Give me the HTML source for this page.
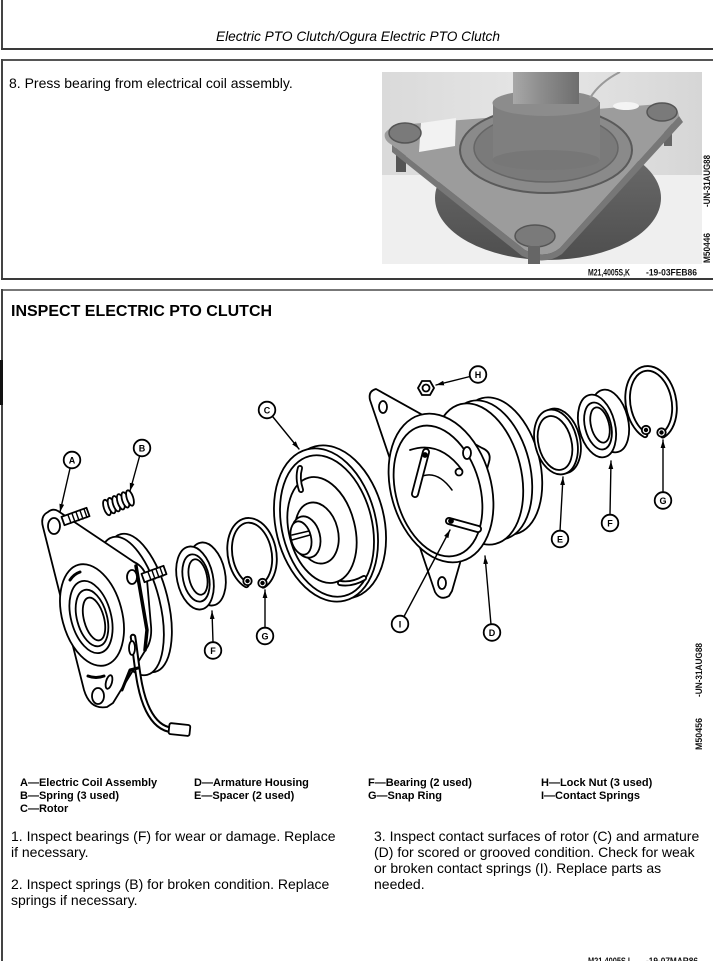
<!DOCTYPE html>
<html><head><meta charset="utf-8">
<style>
html,body{margin:0;padding:0;background:#fff;}
body{width:713px;height:961px;position:relative;overflow:hidden;font-family:"Liberation Sans",Arial,sans-serif;color:#000;}
.a{position:absolute;white-space:nowrap;}
.p{font-size:14px;line-height:16px;}
.lg{font-size:11px;line-height:13.3px;font-weight:bold;}
</style></head><body>

<!-- borders -->
<div class="a" style="left:1px;top:0;width:2px;height:50px;background:#444"></div>
<div class="a" style="left:1px;top:48px;width:712px;height:2px;background:#3a3a3a"></div>
<div class="a" style="left:1px;top:59px;width:712px;height:2px;background:#555"></div>
<div class="a" style="left:1px;top:59px;width:2px;height:221px;background:#444"></div>
<div class="a" style="left:1px;top:278px;width:712px;height:2px;background:#3a3a3a"></div>
<div class="a" style="left:1px;top:289px;width:712px;height:2px;background:#777"></div>
<div class="a" style="left:1px;top:289px;width:2px;height:672px;background:#444"></div>
<div class="a" style="left:0;top:360px;width:3px;height:45px;background:#111"></div>

<!-- header -->
<div class="a" style="left:216px;top:30px;font-size:13.7px;line-height:14px;font-style:italic;">Electric PTO Clutch/Ogura Electric PTO Clutch</div>
<div class="a" style="left:9px;top:76px;font-size:14px;line-height:14px;">8. Press bearing from electrical coil assembly.</div>

<div class="a" style="left:11px;top:303.5px;font-size:16px;line-height:16px;font-weight:bold;">INSPECT ELECTRIC PTO CLUTCH</div>

<!-- legend -->
<div class="a lg" style="left:20px;top:776.5px;">A—Electric Coil Assembly<br>B—Spring (3 used)<br>C—Rotor</div>
<div class="a lg" style="left:194px;top:776.5px;">D—Armature Housing<br>E—Spacer (2 used)</div>
<div class="a lg" style="left:368px;top:776.5px;">F—Bearing (2 used)<br>G—Snap Ring</div>
<div class="a lg" style="left:541px;top:776.5px;">H—Lock Nut (3 used)<br>I—Contact Springs</div>

<!-- paragraphs -->
<div class="a p" style="left:11px;top:828px;">1. Inspect bearings (F) for wear or damage. Replace<br>if necessary.<br><br>2. Inspect springs (B) for broken condition. Replace<br>springs if necessary.</div>
<div class="a p" style="left:374px;top:828px;">3. Inspect contact surfaces of rotor (C) and armature<br>(D) for scored or grooved condition. Check for weak<br>or broken contact springs (I). Replace parts as<br>needed.</div>

<svg class="a" style="left:0;top:0" width="713" height="961" viewBox="0 0 713 961">
<defs>
<marker id="ar" viewBox="0 0 10 6" refX="10" refY="3" markerWidth="8" markerHeight="5" markerUnits="userSpaceOnUse" orient="auto"><path d="M0,0 L10,3 L0,6z" fill="#000"/></marker>
<clipPath id="pc"><rect x="382" y="72" width="320" height="192"/></clipPath>
<linearGradient id="bg" x1="0" y1="0" x2="1" y2="0"><stop offset="0" stop-color="#dadada"/><stop offset="0.5" stop-color="#e6e6e6"/><stop offset="1" stop-color="#d6d6d6"/></linearGradient>
<linearGradient id="sh" x1="0" y1="0" x2="1" y2="0"><stop offset="0" stop-color="#a8a8a8"/><stop offset="0.4" stop-color="#8e8e8e"/><stop offset="1" stop-color="#6e6e6e"/></linearGradient>
<linearGradient id="hs" x1="0" y1="0" x2="0" y2="1"><stop offset="0" stop-color="#6f6f6f"/><stop offset="1" stop-color="#4e4e4e"/></linearGradient>
</defs>

<!-- PHOTO -->
<g clip-path="url(#pc)">
<rect x="382" y="72" width="320" height="192" fill="url(#bg)"/>
<rect x="382" y="175" width="320" height="89" fill="#efefef"/>
<ellipse cx="548" cy="198" rx="113" ry="62" fill="url(#hs)"/>
<rect x="396" y="140" width="10" height="32" fill="#555"/>
<rect x="664" y="116" width="8" height="30" fill="#666"/>
<path d="M385,133 Q392,124 410,124 L660,104 Q678,104 679,116 L560,248 Q545,260 525,250 L392,145 Q383,140 385,133Z" fill="#9c9c9c"/>
<path d="M392,145 L525,250 Q545,260 560,248 L679,116 L683,122 L562,254 Q545,266 522,256 L392,152Z" fill="#777"/>
<polygon points="421,123 456,118 455,146 419,152" fill="#f2f2f2"/>
<ellipse cx="626" cy="106" rx="13" ry="4" fill="#f4f4f4"/>
<ellipse cx="546" cy="150" rx="86" ry="43" fill="#8a8a8a" stroke="#5a5a5a" stroke-width="2"/>
<ellipse cx="546" cy="148" rx="72" ry="34" fill="#7a7a7a" stroke="#666" stroke-width="1.5"/>
<rect x="493" y="102" width="107" height="58" fill="#7f7f7f"/>
<ellipse cx="546" cy="160" rx="53.5" ry="10" fill="#777"/>
<ellipse cx="546" cy="103" rx="53.5" ry="13" fill="#8c8c8c"/>
<rect x="513" y="72" width="66" height="32" fill="url(#sh)"/>
<path d="M590,98 Q600,82 620,72" stroke="#999" stroke-width="2" fill="none"/>
<ellipse cx="405" cy="133" rx="16" ry="10" fill="#7a7a7a" stroke="#555" stroke-width="1.5"/>
<ellipse cx="662" cy="112" rx="15" ry="9" fill="#7a7a7a" stroke="#555" stroke-width="1.5"/>
<ellipse cx="535" cy="236" rx="20" ry="11" fill="#7a7a7a" stroke="#555" stroke-width="1.5"/>
<rect x="528" y="246" width="12" height="18" fill="#666"/>
</g>
<g font-family="Liberation Sans, Arial, sans-serif" font-weight="bold" font-size="9" fill="#111">
<text x="588" y="275.5" textLength="42" lengthAdjust="spacingAndGlyphs">M21,4005S,K</text>
<text x="646" y="275.5" textLength="51" lengthAdjust="spacingAndGlyphs">-19-03FEB86</text>
<text transform="translate(710,207) rotate(-90)" textLength="52" lengthAdjust="spacingAndGlyphs">-UN-31AUG88</text>
<text transform="translate(710,263) rotate(-90)" textLength="30" lengthAdjust="spacingAndGlyphs">M50446</text>
<text transform="translate(702,697) rotate(-90)" textLength="54" lengthAdjust="spacingAndGlyphs">-UN-31AUG88</text>
<text transform="translate(702,750) rotate(-90)" textLength="32" lengthAdjust="spacingAndGlyphs">M50456</text>
<text x="588" y="964" textLength="42" lengthAdjust="spacingAndGlyphs">M21,4005S,I</text>
<text x="646" y="964" textLength="52" lengthAdjust="spacingAndGlyphs">-19-07MAR86</text>
</g>

<!-- DIAGRAM -->
<g fill="#fff" stroke="#000" stroke-width="1.8" stroke-linejoin="round" stroke-linecap="round">

<!-- A coil assembly -->
<ellipse cx="138" cy="603" rx="30" ry="71" transform="rotate(-14 138 603)"/>
<ellipse cx="130" cy="606" rx="30" ry="71" transform="rotate(-14 130 606)"/>
<path d="M48,512 Q40,516 43,527 L84,690 Q90,710 107,707 L113,703 L148,646 Q152,637 151,626 L147,580 Q145,567 134,562 L58,511 Q53,508 48,512Z"/>
<path d="M136,566 L147,630 L145,650" fill="none" stroke-width="3.5"/>
<ellipse cx="92" cy="615" rx="30" ry="52" transform="rotate(-15 92 615)"/>
<ellipse cx="91" cy="617" rx="20" ry="37" transform="rotate(-15 91 617)"/>
<ellipse cx="92" cy="618" rx="15" ry="29" transform="rotate(-15 92 618)"/>
<ellipse cx="94" cy="619" rx="10" ry="22" transform="rotate(-15 94 619)"/>
<path d="M70,580 Q74,574 80,572" fill="none" stroke-width="3"/>
<path d="M88,676 Q96,679 104,676" fill="none" stroke-width="3"/>
<ellipse cx="54" cy="526" rx="6" ry="8"/>
<ellipse cx="98" cy="696" rx="6" ry="8"/>
<ellipse cx="109" cy="682" rx="3" ry="7" transform="rotate(15 109 682)"/>
<ellipse cx="132" cy="577" rx="5" ry="7"/>
<polygon points="61.5,516.8 86.5,507.8 89.5,516.2 64.5,525.2"/>
<path d="M68,515 L71,523 M72,513.5 L75,522 M76,512 L79,520.5 M80,510.5 L83,519 M84,509 L87,517.5" fill="none" stroke-width="1.4"/>
<polygon points="141.5,573.8 163.5,565.8 166.5,574.2 144.5,582.2"/>
<path d="M148,572 L151,580 M152,570.5 L155,579 M156,569 L159,577.5 M160,567.5 L163,576" fill="none" stroke-width="1.4"/>
<path d="M133,637 C137,662 138,690 148,710 C154,722 162,729 172,730" fill="none" stroke-width="6.5"/>
<path d="M133,637 C137,662 138,690 148,710 C154,722 162,729 172,730" fill="none" stroke="#fff" stroke-width="2.5"/>
<path d="M122,690 L130,670 L138,668" fill="none" stroke-width="3"/>
<rect x="169" y="724" width="21" height="11" rx="2" transform="rotate(6 179 729)"/>
<ellipse cx="132" cy="648" rx="3" ry="7"/>

<!-- B spring -->
<ellipse cx="107" cy="507.5" rx="3.2" ry="8" transform="rotate(-18 107 507.5)"/>
<ellipse cx="111.6" cy="505.6" rx="3.2" ry="8" transform="rotate(-18 111.6 505.6)"/>
<ellipse cx="116.2" cy="503.7" rx="3.2" ry="8" transform="rotate(-18 116.2 503.7)"/>
<ellipse cx="120.8" cy="501.8" rx="3.2" ry="8" transform="rotate(-18 120.8 501.8)"/>
<ellipse cx="125.4" cy="499.9" rx="3.2" ry="8" transform="rotate(-18 125.4 499.9)"/>
<ellipse cx="130" cy="498" rx="3.2" ry="8" transform="rotate(-18 130 498)"/>

<!-- F bearing left -->
<ellipse cx="207" cy="574" rx="18" ry="32" transform="rotate(-12 207 574)"/>
<ellipse cx="195" cy="578" rx="18" ry="32" transform="rotate(-12 195 578)"/>
<ellipse cx="196" cy="578" rx="13" ry="24" transform="rotate(-12 196 578)"/>
<ellipse cx="198" cy="577" rx="9" ry="18" transform="rotate(-12 198 577)"/>

<!-- G snap ring left -->
<path d="M246.3,584.9 A22,34 -10 1 1 263.3,585.4" fill="none" stroke-width="6.5"/>
<path d="M246.3,584.9 A22,34 -10 1 1 263.3,585.4" fill="none" stroke="#fff" stroke-width="2.8"/>
<circle cx="247.5" cy="581" r="4.2"/><circle cx="247.5" cy="581" r="1.3" fill="#000"/>
<circle cx="262.5" cy="583" r="4.2"/><circle cx="262.5" cy="583" r="1.3" fill="#000"/>

<!-- C rotor -->
<ellipse cx="334" cy="522" rx="50" ry="78" transform="rotate(-14 334 522)"/>
<ellipse cx="326" cy="525" rx="50" ry="78" transform="rotate(-14 326 525)"/>
<ellipse cx="327" cy="526" rx="45" ry="72" transform="rotate(-14 327 526)" fill="none"/>
<ellipse cx="322" cy="530" rx="33" ry="54" transform="rotate(-14 322 530)" fill="none"/>
<path d="M300,468 Q297,478 301,490" fill="none" stroke-width="6"/>
<path d="M300,468 Q297,478 301,490" fill="none" stroke="#fff" stroke-width="2.4"/>
<path d="M340,583 Q352,585 364,578" fill="none" stroke-width="6"/>
<path d="M340,583 Q352,585 364,578" fill="none" stroke="#fff" stroke-width="2.4"/>
<ellipse cx="317" cy="533" rx="21" ry="31" transform="rotate(-14 317 533)"/>
<ellipse cx="306" cy="537" rx="14" ry="21" transform="rotate(-14 306 537)"/>
<ellipse cx="301" cy="538" rx="10" ry="17" transform="rotate(-14 301 538)"/>
<path d="M292,540 L310,535 M292,535 L309,531" fill="none" stroke-width="1.5"/>

<!-- D armature housing -->
<ellipse cx="499" cy="466" rx="41" ry="70" transform="rotate(-14 499 466)"/>
<ellipse cx="488" cy="470" rx="42" ry="71" transform="rotate(-14 488 470)"/>
<ellipse cx="478" cy="474" rx="43" ry="72" transform="rotate(-14 478 474)"/>
<path d="M376,389 Q368,391 370,400 L435,592 Q440,601 449,596 L452,591 L489,462 Q492,452 482,448Z"/>
<ellipse cx="441" cy="488" rx="50" ry="76" transform="rotate(-16 441 488)"/>
<ellipse cx="438" cy="491" rx="42" ry="67" transform="rotate(-16 438 491)"/>
<path d="M410,450 Q440,440 462,470" fill="none"/>
<path d="M418,478 Q436,468 452,490" fill="none" stroke-width="1.5"/>
<ellipse cx="383" cy="407" rx="4" ry="6"/>
<ellipse cx="467" cy="453" rx="4" ry="6"/>
<ellipse cx="442" cy="583" rx="4" ry="6"/>
<path d="M426,452 L415,494" stroke-width="8"/>
<path d="M426,452 L415,494" stroke="#fff" stroke-width="4.4"/>
<circle cx="425" cy="455" r="2" fill="#000"/>
<path d="M449,521 L478,529" stroke-width="8"/>
<path d="M449,521 L478,529" stroke="#fff" stroke-width="4.4"/>
<circle cx="451" cy="521" r="2" fill="#000"/>
<circle cx="459" cy="472" r="3.5"/>

<!-- H lock nut -->
<polygon points="434,388 430,395 422,395 418,388 422,381 430,381"/>
<circle cx="426" cy="388" r="3.5"/>

<!-- E spacer -->
<ellipse cx="559" cy="441" rx="21" ry="33" transform="rotate(-14 559 441)"/>
<ellipse cx="556" cy="442" rx="21" ry="33" transform="rotate(-14 556 442)"/>
<ellipse cx="555" cy="443" rx="16.5" ry="27.5" transform="rotate(-14 555 443)"/>

<!-- F bearing right -->
<ellipse cx="610" cy="421" rx="18" ry="32" transform="rotate(-14 610 421)"/>
<ellipse cx="597" cy="426" rx="18" ry="32" transform="rotate(-14 597 426)"/>
<ellipse cx="598" cy="426" rx="13" ry="24" transform="rotate(-14 598 426)"/>
<ellipse cx="600" cy="425" rx="9" ry="18" transform="rotate(-14 600 425)"/>

<!-- G snap ring right -->
<path d="M645,434.9 A23,35 -10 1 1 662.8,435.3" fill="none" stroke-width="6.5"/>
<path d="M645,434.9 A23,35 -10 1 1 662.8,435.3" fill="none" stroke="#fff" stroke-width="2.8"/>
<circle cx="646" cy="430" r="4.2"/><circle cx="646" cy="430" r="1.3" fill="#000"/>
<circle cx="661.5" cy="432.5" r="4.2"/><circle cx="661.5" cy="432.5" r="1.3" fill="#000"/>

<!-- leaders -->
<g stroke-width="1.4" fill="none">
<line x1="70" y1="468.5" x2="60" y2="512" marker-end="url(#ar)"/>
<line x1="139.5" y1="456.5" x2="130" y2="491" marker-end="url(#ar)"/>
<line x1="273" y1="417" x2="299" y2="449" marker-end="url(#ar)"/>
<line x1="213" y1="642" x2="212" y2="611" marker-end="url(#ar)"/>
<line x1="265" y1="627.5" x2="265" y2="590" marker-end="url(#ar)"/>
<line x1="470" y1="376.5" x2="436" y2="385" marker-end="url(#ar)"/>
<line x1="404" y1="616.5" x2="450" y2="530" marker-end="url(#ar)"/>
<line x1="491" y1="624.5" x2="485" y2="556" marker-end="url(#ar)"/>
<line x1="560" y1="531" x2="563" y2="477" marker-end="url(#ar)"/>
<line x1="610" y1="514.5" x2="611" y2="461" marker-end="url(#ar)"/>
<line x1="663" y1="492.5" x2="663" y2="440" marker-end="url(#ar)"/>
</g>

<!-- label circles -->
<circle cx="72" cy="460" r="8.3"/>
<circle cx="142" cy="448" r="8.3"/>
<circle cx="267" cy="410" r="8.3"/>
<circle cx="213" cy="650.5" r="8.3"/>
<circle cx="265" cy="636" r="8.3"/>
<circle cx="478" cy="374.5" r="8.3"/>
<circle cx="400" cy="624" r="8.3"/>
<circle cx="492" cy="632.5" r="8.3"/>
<circle cx="560" cy="539" r="8.3"/>
<circle cx="610" cy="523" r="8.3"/>
<circle cx="663" cy="500.5" r="8.3"/>
</g>
<g font-family="Liberation Sans, Arial, sans-serif" font-weight="bold" font-size="9" text-anchor="middle" fill="#000">
<text x="72" y="463.3">A</text>
<text x="142" y="451.3">B</text>
<text x="267" y="413.3">C</text>
<text x="213" y="653.8">F</text>
<text x="265" y="639.3">G</text>
<text x="478" y="377.8">H</text>
<text x="400" y="627.3">I</text>
<text x="492" y="635.8">D</text>
<text x="560" y="542.3">E</text>
<text x="610" y="526.3">F</text>
<text x="663" y="503.8">G</text>
</g>
</svg>
</body></html>
